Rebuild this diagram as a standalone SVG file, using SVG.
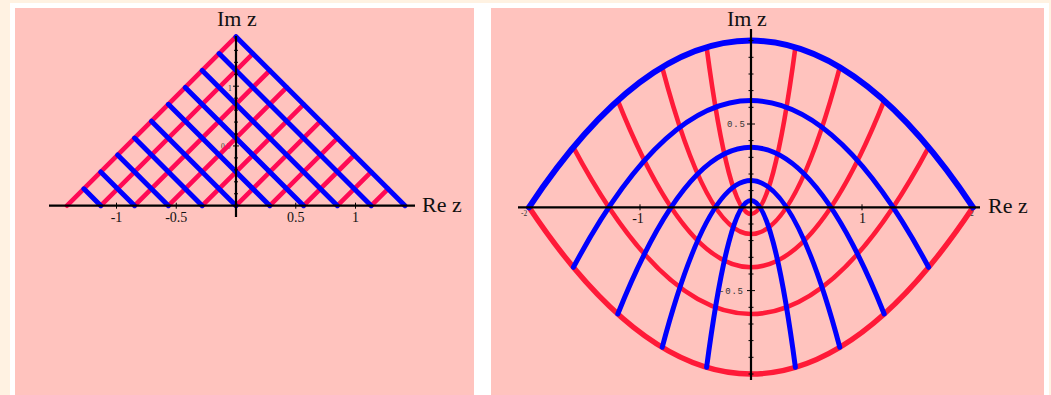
<svg xmlns="http://www.w3.org/2000/svg" width="1051" height="395" viewBox="0 0 1051 395">
<style>
.panel{fill:#FFC3BE}
.axis{stroke:#000;stroke-width:2.2;fill:none}
.tick{stroke:#000;stroke-width:1;fill:none}
.blue{stroke:#0000FF;stroke-width:5;stroke-linecap:round;fill:none}
.redL{stroke:#FF0A55;stroke-width:4.6;stroke-linecap:round;fill:none}
.redR{stroke:#FF1A38;stroke-width:4.6;stroke-linecap:round;fill:none}
.big{font-family:"Liberation Serif","Times New Roman",serif;font-size:22px;fill:#111}
.num{font-family:"Liberation Serif","Times New Roman",serif;font-size:14px;fill:#111;text-anchor:middle}
.tiny{font-family:"Liberation Mono","DejaVu Sans Mono",monospace;font-size:9px;fill:#333;letter-spacing:0.8px}
.tinys{font-family:"Liberation Serif",serif;font-size:7.5px;fill:#333}
</style>
<rect x="0" y="0" width="1051" height="395" fill="#FFF2E2"/>
<rect x="10" y="3" width="1039" height="392" fill="#FFFFFF"/>

<g id="left-plot">
  <rect class="panel" x="15" y="8" width="459" height="387"/>
  <g id="left-ylabels">
    <text class="tinys" x="228" y="91">1</text>
    <text class="tinys" x="221" y="149">0.5</text>
  </g>
  <g id="left-red">
    <path class="redL" d="M67 205.7L236 36.7M100.8 205.7L252.9 53.6M134.6 205.7L269.8 70.5M168.4 205.7L286.7 87.4M202.2 205.7L303.6 104.3M236 205.7L320.5 121.2M269.8 205.7L337.4 138.1M303.6 205.7L354.3 155M337.4 205.7L371.2 171.9M371.2 205.7L388.1 188.8"/>
  </g>
  <g id="left-blue">
    <path class="blue" d="M83.9 188.8L100.8 205.7M100.8 171.9L134.6 205.7M117.7 155L168.4 205.7M134.6 138.1L202.2 205.7M151.5 121.2L236 205.7M168.4 104.3L269.8 205.7M185.3 87.4L303.6 205.7M202.2 70.5L337.4 205.7M219.1 53.6L371.2 205.7M236 36.7L405 205.7"/>
  </g>
  <g id="left-axes">
    <path class="axis" d="M49 205.7H415M236 36V217"/>
    <path class="tick" d="M234 193.75h4M234 181.8h4M234 169.85h4M234 157.9h4M233 145.95h6M234 134h4M234 122.05h4M234 110.1h4M234 98.15h4M233 86.2h6M234 74.25h4M234 62.3h4M234 50.35h4M116.5 202.7v6M176.25 202.7v6M295.75 202.7v6M355.5 202.7v6"/>
    <text class="num" x="116.5" y="221.5">-1</text>
    <text class="num" x="176.25" y="221.5">-0.5</text>
    <text class="num" x="295.75" y="221.5">0.5</text>
    <text class="num" x="355.5" y="221.5">1</text>
    <text class="big" x="217" y="26">Im z</text>
    <text class="big" x="422" y="212">Re z</text>
  </g>
</g>

<g id="right-plot">
  <rect class="panel" x="491" y="8" width="553" height="387"/>
  <g id="right-red">
    <path class="redR" d="M706.6 47.3Q751 380.7 795.4 47.3"/>
    <path class="redR" d="M662.2 67.3Q751 400.7 839.8 67.3"/>
    <path class="redR" d="M617.8 100.6Q751 434 884.2 100.6"/>
    <path class="redR" d="M573.4 147.3Q751 480.7 928.6 147.3"/>
    <path class="redR" style="stroke-width:5.4" d="M529 207.3Q751 540.7 973 207.3"/>
  </g>
  <g id="right-blue">
    <path class="blue" d="M706.6 367.3Q751 33.9 795.4 367.3"/>
    <path class="blue" d="M662.2 347.3Q751 13.9 839.8 347.3"/>
    <path class="blue" d="M617.8 314Q751 -19.4 884.2 314"/>
    <path class="blue" d="M573.4 267.3Q751 -66.1 928.6 267.3"/>
    <path class="blue" style="stroke-width:6" d="M529 207.3Q751 -126.1 973 207.3"/>
  </g>
  <g id="right-axes">
    <path class="axis" d="M518 207.3H980M751 29V380"/>
    <path class="tick" d="M748.5 40.6h5M748.5 57.3h5M748.5 74h5M748.5 90.6h5M748.5 107.3h5M747 124h8M748.5 140.6h5M748.5 157.3h5M748.5 174h5M748.5 190.6h5M748.5 224h5M748.5 240.6h5M748.5 257.3h5M748.5 274h5M747 290.6h8M748.5 307.3h5M748.5 324h5M748.5 340.6h5M748.5 357.3h5M748.5 374h5M640 204.3v6M862 204.3v6"/>
    <text class="tiny" x="727" y="127">0.5</text>
    <text class="tiny" x="719" y="294">-0.5</text>
    <text class="tinys" x="521" y="216">-2</text>
    <text class="tinys" x="970" y="216">2</text>
    <text class="num" x="638" y="222.5">-1</text>
    <text class="num" x="862.5" y="222.5">1</text>
    <text class="big" x="727" y="25.5">Im z</text>
    <text class="big" x="988" y="213">Re z</text>
  </g>
</g>
</svg>
